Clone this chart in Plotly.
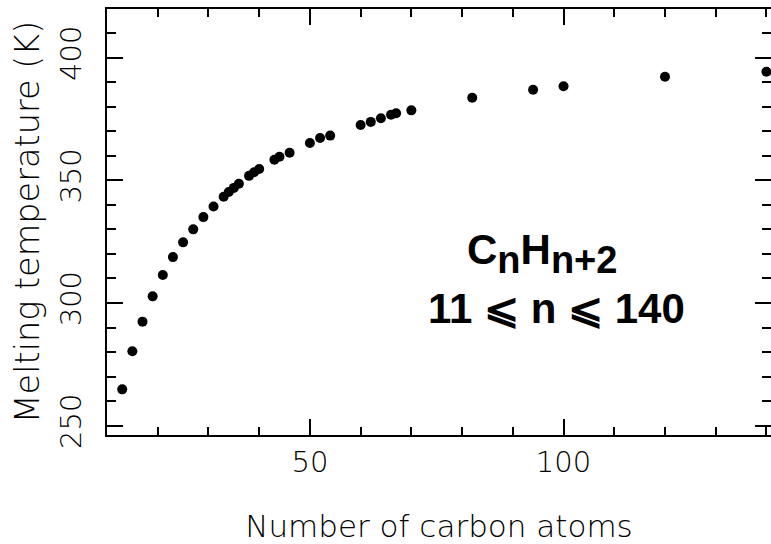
import plotly.graph_objects as go

# Melting temperatures of n-alkanes versus chain length
carbon_atoms = [13, 15, 17, 19, 21, 23, 25, 27, 29, 31, 33, 34, 35, 36, 38, 39, 40,
                43, 44, 46, 50, 52, 54, 60, 62, 64, 66, 67, 70, 82, 94, 100, 120, 140]
melting_temp = [264.8, 280.3, 292.4, 302.7, 311.4, 318.7, 324.7, 330.0, 335.0, 339.3,
                343.3, 345.2, 346.9, 348.6, 351.8, 353.3, 354.6, 358.4, 359.6, 361.2,
                365.2, 367.2, 368.2, 372.5, 373.8, 375.3, 376.7, 377.3, 378.5, 383.6,
                386.9, 388.3, 392.2, 394.2]

x_range = [10, 140.9]
y_range = [246.2, 419.8]

tick_font = dict(family="DejaVu Sans", size=29, color="black", weight=200)

fig = go.Figure()
fig.add_trace(go.Scatter(
    x=carbon_atoms, y=melting_temp, mode="markers",
    marker=dict(size=10, color="black"),
    showlegend=False,
))

frame = dict(
    showgrid=False, zeroline=False,
    showline=True, linecolor="black", linewidth=2, mirror="allticks",
    ticks="inside", ticklen=16, tickwidth=2, tickcolor="black",
)
x_ticks = dict(tick0=0, dtick=50,
               minor=dict(ticks="inside", ticklen=8, tickwidth=2, tickcolor="black", dtick=10))
y_ticks = dict(tick0=0, dtick=50,
               minor=dict(ticks="inside", ticklen=9, tickwidth=2, tickcolor="black", dtick=10))

fig.update_layout(
    xaxis=dict(
        range=x_range, side="bottom", tickfont=tick_font,
        title=dict(text="Number of carbon atoms",
                   font=dict(family="DejaVu Sans", size=31, color="black", weight=200),
                   standoff=38),
        **frame, **x_ticks,
    ),
    # companion axis on the top edge, so both edges carry inward ticks
    xaxis2=dict(range=x_range, side="top", overlaying="x", anchor="y",
                showticklabels=False, **frame, **x_ticks),
    yaxis=dict(
        range=y_range, side="left", tickangle=-90, ticklabelstandoff=12,
        tickfont=tick_font,
        title=dict(text="Melting temperature (K)",
                   font=dict(family="DejaVu Sans", size=33.5, color="black", weight=200),
                   standoff=5),
        **frame, **y_ticks,
    ),
    # companion axis on the right edge
    yaxis2=dict(range=y_range, side="right", overlaying="y", anchor="x",
                showticklabels=False, **frame, **y_ticks),
)

label_font = dict(family="Liberation Sans", size=42, color="black", weight="bold")
sub_style = "font-size:38px"
fig.add_annotation(
    xref="paper", yref="paper", x=0.655, y=0.425,
    text=(f"C<sub><span style='{sub_style}'>n</span></sub>"
          f"H<sub><span style='{sub_style}'>n+2</span></sub>"),
    showarrow=False, xanchor="center", yanchor="middle", font=label_font,
)
fig.add_annotation(
    xref="paper", yref="paper", x=0.677, y=0.298,
    text="11 \u2a7d n \u2a7d 140", showarrow=False,
    xanchor="center", yanchor="middle", font=label_font,
)

fig.update_layout(
    width=771, height=544,
    margin=dict(l=107, r=0, t=9, b=109, autoexpand=False),
    paper_bgcolor="white", plot_bgcolor="rgba(0,0,0,0)",
)

fig.write_html("out.html")
